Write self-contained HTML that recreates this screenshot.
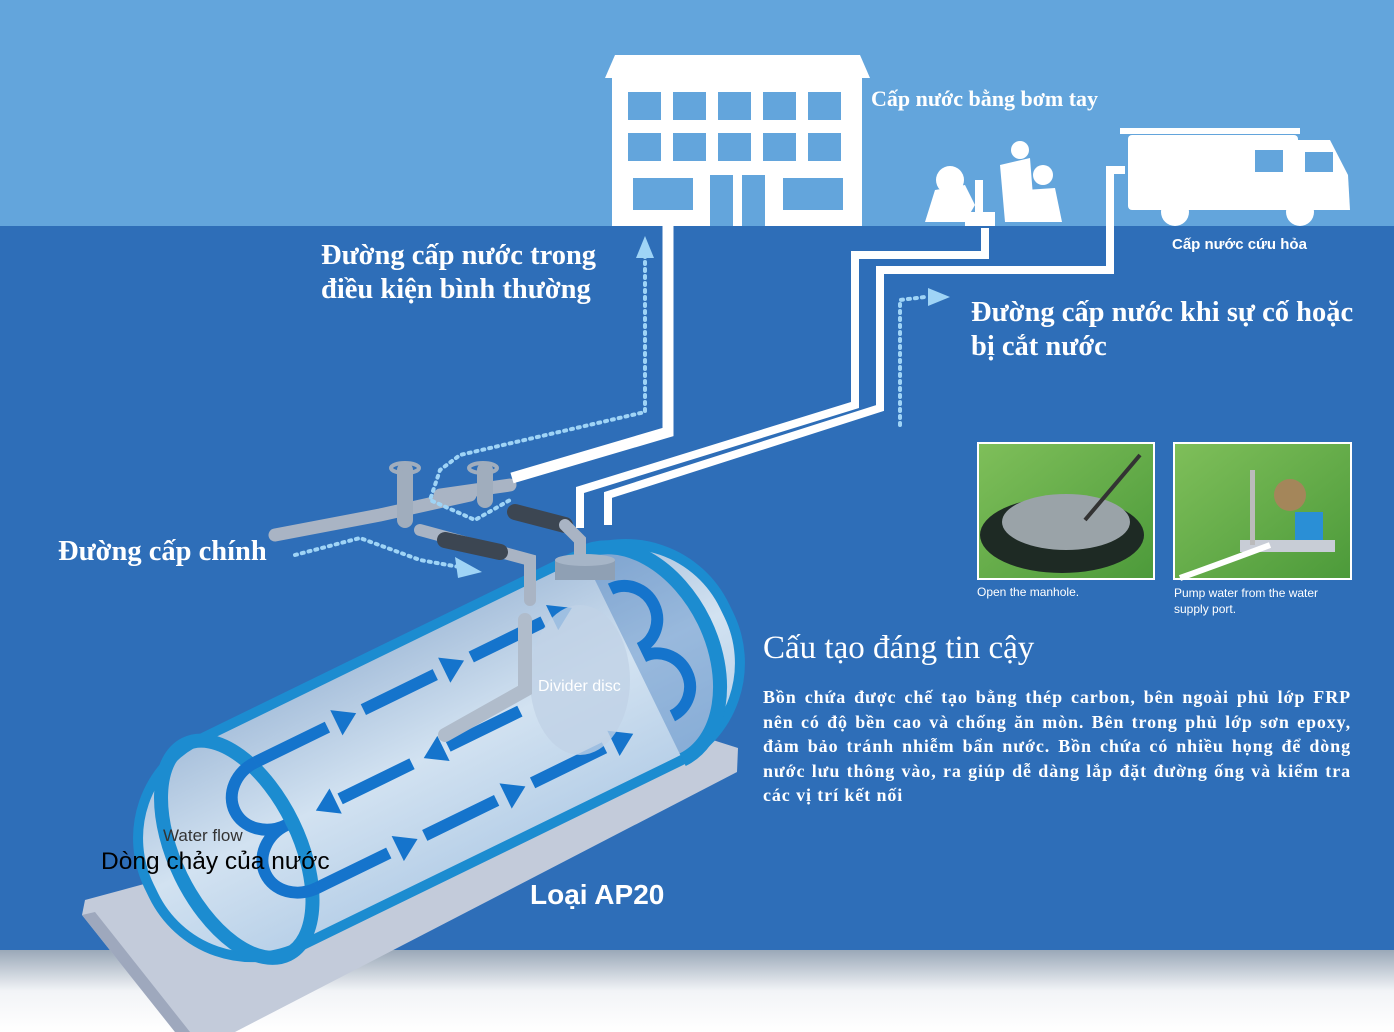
<!DOCTYPE html>
<html><head><meta charset="utf-8"><style>
body{margin:0;width:1394px;height:1032px;overflow:hidden;background:#fff;font-family:"Liberation Serif",serif}
.t{position:absolute;color:#fff;white-space:nowrap}
</style></head><body>
<svg width="1394" height="1032" style="position:absolute;left:0;top:0">
<defs>
<linearGradient id="fade" x1="0" y1="0" x2="0" y2="1"><stop offset="0" stop-color="#9aa8b8"/><stop offset="0.5" stop-color="#f2f4f7"/><stop offset="1" stop-color="#fff"/></linearGradient>
<linearGradient id="tank" x1="0" y1="0" x2="0" y2="1"><stop offset="0" stop-color="#a9c1dc"/><stop offset="0.5" stop-color="#d2e2f1"/><stop offset="1" stop-color="#b8d0e8"/></linearGradient>
<linearGradient id="g1" x1="0" y1="0" x2="1" y2="1"><stop offset="0" stop-color="#7fbf5a"/><stop offset="1" stop-color="#4c9a3a"/></linearGradient>
</defs>
<rect x="0" y="0" width="1394" height="226" fill="#63a5dc"/>
<rect x="0" y="226" width="1394" height="726" fill="#2e6eb8"/>
<rect x="0" y="950" width="1394" height="82" fill="url(#fade)"/>
<polygon points="85,900 697,735 738,748 737,772 235,1032 175,1032 82,915" fill="#c3cbda"/>
<polygon points="82,915 175,1032 190,1032 95,912" fill="#9ea8bd"/>
<g transform="rotate(-26 430 755)">
<rect x="120" y="640" width="640" height="230" rx="110" fill="url(#tank)" stroke="#1c8cd0" stroke-width="10"/>
<ellipse cx="215" cy="755" rx="62" ry="117" fill="none" stroke="#1c8cd0" stroke-width="14"/>
<path d="M655 640 a80 115 0 0 1 0 230" fill="#2e6eb8" fill-opacity="0.35" stroke="#1c8cd0" stroke-width="14"/>
<g stroke="#1574cc" stroke-width="12" fill="none">
<path d="M270 685 H350 M390 685 H470 M510 685 H590"/>
<path d="M330 755 H410 M450 755 H530"/>
<path d="M270 825 H350 M390 825 H470 M510 825 H590"/>
<path d="M270 685 a40 35 0 0 0 0 70"/>
<path d="M270 825 a40 35 0 0 1 0 -70"/>
<path d="M665 685 a32 33 0 0 1 0 66 M665 760 a32 33 0 0 1 0 66"/>
</g>
<g fill="#1574cc">
<polygon points="360,671 382,685 360,699"/><polygon points="480,671 502,685 480,699"/><polygon points="600,671 622,685 600,699"/>
<polygon points="325,741 303,755 325,769"/><polygon points="445,741 423,755 445,769"/>
<polygon points="360,811 382,825 360,839"/><polygon points="480,811 502,825 480,839"/><polygon points="600,811 622,825 600,839"/>
</g>
</g>
<ellipse cx="580" cy="680" rx="50" ry="75" fill="#c0d2e6" opacity="0.8"/>
<g fill="none" stroke-linecap="round">
<path d="M275 535 L380 515 L470 495" stroke="#a9b4c4" stroke-width="13"/>
<path d="M440 495 L510 485" stroke="#a9b4c4" stroke-width="13"/>
<path d="M420 530 L530 560 L530 600" stroke="#a9b4c4" stroke-width="12"/>
<path d="M445 540 L500 552" stroke="#3c4652" stroke-width="16"/>
<path d="M515 512 L565 525" stroke="#3c4652" stroke-width="16"/>
<path d="M565 525 L580 540 L580 560" stroke="#a9b4c4" stroke-width="12"/>
<path d="M525 620 L525 690 L445 735" stroke="#b0bccb" stroke-width="14"/>
<path d="M405 470 V520 M485 470 V500" stroke="#a0adbd" stroke-width="16"/>
</g>
<rect x="555" y="560" width="60" height="20" fill="#8fa0b4"/>
<ellipse cx="585" cy="560" rx="30" ry="6" fill="#a6b5c7"/>
<ellipse cx="405" cy="468" rx="14" ry="5" fill="none" stroke="#a0adbd" stroke-width="4"/>
<ellipse cx="483" cy="468" rx="14" ry="5" fill="none" stroke="#a0adbd" stroke-width="4"/>
<g fill="none" stroke="#fff" stroke-width="11">
<path d="M668 220 V432 L512 478"/>
<path d="M580 528 V490 L855 405 V255 L985 255 V228" stroke-width="8"/>
<path d="M608 525 V495 L880 408 V270 L1110 270 V170 L1125 170" stroke-width="8"/>
</g>
<g fill="none" stroke="#9fd4f6" stroke-width="4" stroke-dasharray="2 5" stroke-linecap="round">
<path d="M645 255 V412 L460 455 L440 470 L430 500 L475 520 L510 500"/>
<path d="M900 425 V300 L925 297"/>
<path d="M295 555 L360 538 L420 560 L465 568"/>
</g>
<polygon points="636,258 645,236 654,258" fill="#9fd4f6"/>
<polygon points="928,288 950,297 928,306" fill="#9fd4f6"/>
<polygon points="455,557 482,572 458,578" fill="#9fd4f6"/>
<polygon points="605,78 615,55 860,55 870,78" fill="#fff"/>
<rect x="612" y="78" width="250" height="148" fill="#fff"/>
<g fill="#63a5dc">
<rect x="628" y="92" width="33" height="28"/><rect x="673" y="92" width="33" height="28"/><rect x="718" y="92" width="33" height="28"/><rect x="763" y="92" width="33" height="28"/><rect x="808" y="92" width="33" height="28"/>
<rect x="628" y="133" width="33" height="28"/><rect x="673" y="133" width="33" height="28"/><rect x="718" y="133" width="33" height="28"/><rect x="763" y="133" width="33" height="28"/><rect x="808" y="133" width="33" height="28"/>
<rect x="633" y="178" width="60" height="32"/><rect x="710" y="175" width="23" height="51"/><rect x="742" y="175" width="23" height="51"/><rect x="783" y="178" width="60" height="32"/>
</g>
<g fill="#fff">
<circle cx="950" cy="180" r="14"/><path d="M925 222 L935 190 L965 185 L975 205 L965 222Z"/>
<rect x="975" y="180" width="8" height="45"/><rect x="965" y="212" width="30" height="14"/>
<circle cx="1020" cy="150" r="9"/><path d="M1000 165 L1030 158 L1035 222 L1005 222Z"/>
<circle cx="1043" cy="175" r="10"/><path d="M1025 190 L1055 188 L1062 222 L1022 222Z"/>
<rect x="1128" y="135" width="170" height="75" rx="4"/>
<path d="M1298 140 L1330 140 L1348 175 L1350 210 L1298 210Z"/>
<rect x="1120" y="128" width="180" height="6"/>
<circle cx="1175" cy="212" r="14"/><circle cx="1300" cy="212" r="14"/>
</g>
<rect x="1255" y="150" width="28" height="22" fill="#63a5dc"/><rect x="1305" y="152" width="28" height="20" fill="#63a5dc"/>
<rect x="978" y="443" width="176" height="136" fill="url(#g1)" stroke="#fff" stroke-width="2"/>
<ellipse cx="1062" cy="535" rx="82" ry="38" fill="#1e2a24"/>
<ellipse cx="1066" cy="522" rx="64" ry="28" fill="#9aa3a8"/>
<path d="M1085 520 L1140 455" stroke="#333" stroke-width="4"/>
<rect x="1174" y="443" width="177" height="136" fill="url(#g1)" stroke="#fff" stroke-width="2"/>
<rect x="1240" y="540" width="95" height="12" fill="#c8cdd6"/>
<rect x="1250" y="470" width="5" height="75" fill="#bbb"/><circle cx="1290" cy="495" r="16" fill="#a4865a"/>
<rect x="1295" y="512" width="28" height="28" fill="#2a8fd6"/>
<path d="M1180 578 Q1230 560 1270 545" stroke="#fff" stroke-width="6" fill="none"/>
</svg>
<div class="t" style="left:871px;top:86px;font-size:22px;font-weight:bold">Cấp nước bằng bơm tay</div>
<div class="t" style="left:1172px;top:236px;font-size:15px;font-family:'Liberation Sans',sans-serif;font-weight:bold">Cấp nước cứu hỏa</div>
<div class="t" style="left:321px;top:239px;font-size:28.5px;font-weight:bold;line-height:34px">Đường cấp nước trong<br>điều kiện bình thường</div>
<div class="t" style="left:971px;top:296px;font-size:28.5px;font-weight:bold;line-height:34px">Đường cấp nước khi sự cố hoặc<br>bị cắt nước</div>
<div class="t" style="left:58px;top:536px;font-size:28.5px;font-weight:bold">Đường cấp chính</div>
<div class="t" style="left:977px;top:585px;font-size:12px;font-family:'Liberation Sans',sans-serif">Open the manhole.</div>
<div class="t" style="left:1174px;top:585px;font-size:12px;font-family:'Liberation Sans',sans-serif;line-height:16px">Pump water from the water<br>supply port.</div>
<div class="t" style="left:763px;top:630px;font-size:33px">Cấu tạo đáng tin cậy</div>
<div class="t" style="left:763px;top:685px;width:588px;white-space:normal;font-size:18px;letter-spacing:0.9px;font-weight:bold;line-height:24.5px;text-align:justify">Bồn chứa được chế tạo bằng thép carbon, bên ngoài phủ lớp FRP nên có độ bền cao và chống ăn mòn. Bên trong phủ lớp sơn epoxy, đảm bảo tránh nhiễm bẩn nước. Bồn chứa có nhiều họng để dòng nước lưu thông vào, ra giúp dễ dàng lắp đặt đường ống và kiểm tra các vị trí kết nối</div>
<div class="t" style="left:538px;top:678px;font-size:16px;font-family:'Liberation Sans',sans-serif">Divider disc</div>
<div class="t" style="left:163px;top:826px;font-size:17px;color:#333;font-family:'Liberation Sans',sans-serif">Water flow</div>
<div class="t" style="left:101px;top:848px;font-size:24.5px;color:#000;font-family:'Liberation Sans',sans-serif">Dòng chảy của nước</div>
<div class="t" style="left:530px;top:879px;font-size:28px;font-weight:bold;font-family:'Liberation Sans',sans-serif">Loại AP20</div>
</body></html>
